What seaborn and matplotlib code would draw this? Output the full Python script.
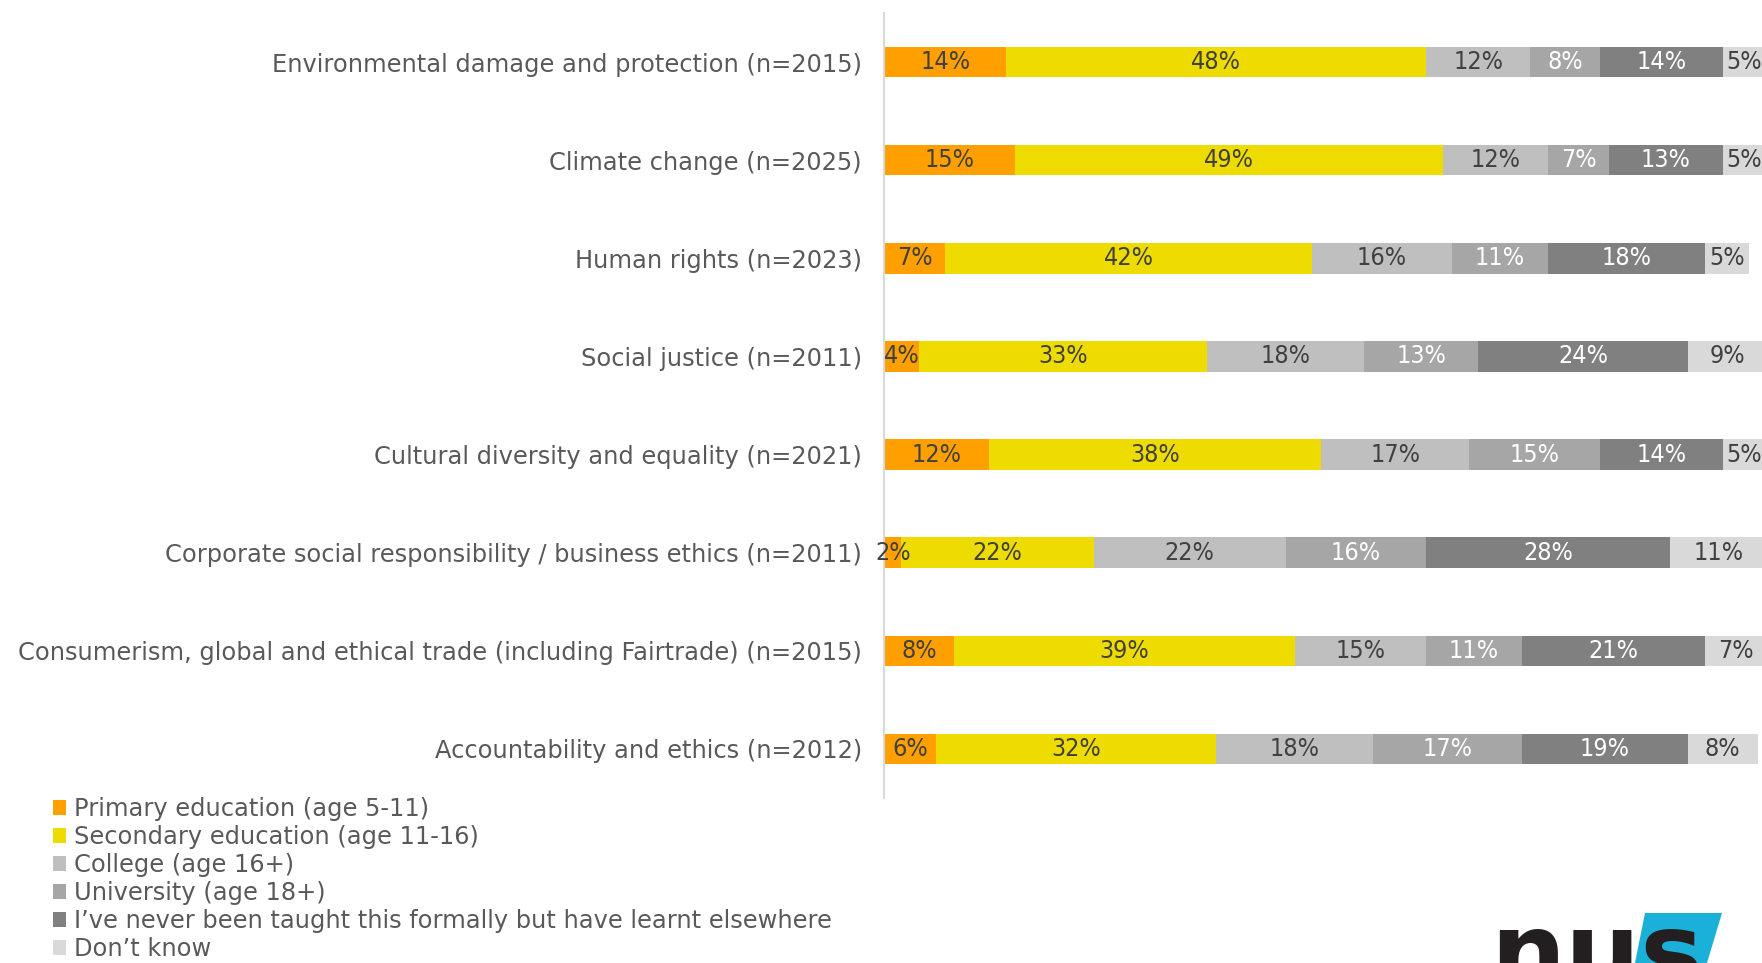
import numpy as np
import pandas as pd
import matplotlib
matplotlib.use("Agg")
import matplotlib.pyplot as plt
from matplotlib.patches import Patch, Polygon
import seaborn as sns

topics = [
    "Environmental damage and protection (n=2015)",
    "Climate change (n=2025)",
    "Human rights (n=2023)",
    "Social justice (n=2011)",
    "Cultural diversity and equality (n=2021)",
    "Corporate social responsibility / business ethics (n=2011)",
    "Consumerism, global and ethical trade (including Fairtrade) (n=2015)",
    "Accountability and ethics (n=2012)",
]

series_names = [
    "Primary education (age 5-11)",
    "Secondary education (age 11-16)",
    "College (age 16+)",
    "University (age 18+)",
    "I\u2019ve never been taught this formally but have learnt elsewhere",
    "Don\u2019t know",
]

primary = [14, 15, 7, 4, 12, 2, 8, 6]
secondary = [48, 49, 42, 33, 38, 22, 39, 32]
college = [12, 12, 16, 18, 17, 22, 15, 18]
university = [8, 7, 11, 13, 15, 16, 11, 17]
elsewhere = [14, 13, 18, 24, 14, 28, 21, 19]
dont_know = [5, 5, 5, 9, 5, 11, 7, 8]

colors = ["#FFA000", "#EEDC00", "#BFBFBF", "#A6A6A6", "#808080", "#D9D9D9"]
label_colors = ["#404040", "#404040", "#404040", "#FFFFFF", "#FFFFFF", "#404040"]

values = np.array([primary, secondary, college, university, elsewhere, dont_know], dtype=float)
cum = values.cumsum(axis=0)

sns.set_theme(style="white")
plt.rcParams["font.family"] = ["DejaVu Sans"]

fig = plt.figure(figsize=(17.62, 9.63), dpi=100)
ax = fig.add_axes([884 / 1762, 1 - 798 / 963, 1 - 884 / 1762, (798 - 13) / 963])

# Stacked bars: draw cumulative totals from the outermost segment inward
for i in range(len(series_names) - 1, -1, -1):
    df = pd.DataFrame({"topic": topics, "total": cum[i]})
    sns.barplot(data=df, x="total", y="topic", orient="h", color=colors[i],
                width=0.31, saturation=1, ax=ax, linewidth=0)

for i in range(len(series_names)):
    for j in range(len(topics)):
        v = values[i, j]
        ax.text(cum[i, j] - v / 2, j, f"{int(v)}%", ha="center", va="center",
                fontsize=18, fontstretch="condensed", color=label_colors[i])

ax.set_xlim(0, 100.5)
ax.set_ylim(len(topics) - 0.5, -0.5)
ax.set_xlabel("")
ax.set_ylabel("")
ax.set_xticks([])
ax.tick_params(axis="y", length=0, pad=16, labelsize=17.4, labelcolor="#595959")
for s in ["top", "right", "bottom"]:
    ax.spines[s].set_visible(False)
ax.spines["left"].set_color("#D9D9D9")
ax.spines["left"].set_linewidth(1.5)

handles = [Patch(facecolor=c, edgecolor="none") for c in colors]
fig.legend(handles, series_names, loc="upper left", bbox_to_anchor=(53 / 1762, 1 - 797 / 963),
           frameon=False, fontsize=17.4, labelcolor="#595959", handlelength=0.55,
           handleheight=0.55, handletextpad=0.3, labelspacing=0.165, borderaxespad=0,
           borderpad=0)

# NUS logo
fig.patches.append(Polygon([[1645 / 1762, 1 - 913 / 963], [1722 / 1762, 1 - 913 / 963],
                            [1707 / 1762, 0.0], [1635 / 1762, 0.0]],
                           closed=True, transform=fig.transFigure, facecolor="#1BB0D8",
                           edgecolor="none", zorder=0))
fig.text(1490 / 1762, -0.026, "nus", fontsize=76, fontweight="heavy", color="#231F20",
         ha="left", va="baseline")

fig.savefig("out.png", dpi=100)
